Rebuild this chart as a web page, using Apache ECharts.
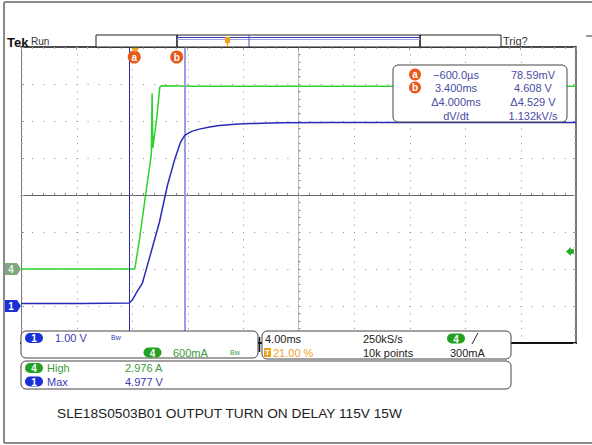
<!DOCTYPE html>
<html>
<head>
<meta charset="utf-8">
<script src="https://cdn.jsdelivr.net/npm/echarts@6/dist/echarts.min.js"></script>
<style>
html, body { margin: 0; padding: 0; background: #fff; }
#main { width: 592px; height: 445px; }
</style>
</head>
<body>
<div id="main"></div>
<script>
// Ch1 - output voltage (1.00 V/div), time in ms
const ch1Time = [-8.4, -4, -0.6, -0.38, -0.1, 0.35, 0.86, 1.58, 2.16, 2.67, 3.1, 3.4, 3.9, 4.45, 5.2, 5.9, 7.0, 8.1, 10.3, 14, 31.6]
const ch1Volts = [0.07, 0.07, 0.08, 0.16, 0.35, 0.62, 1.30, 2.27, 3.27, 3.95, 4.43, 4.61, 4.72, 4.78, 4.84, 4.88, 4.91, 4.93, 4.95, 4.96, 4.96]
// Ch4 - current (600 mA/div)
const ch4Time = [-8.4, -4, -0.2, -0.12, 0.17, 0.53, 0.99, 1.05, 1.1, 1.39, 1.6, 1.72, 4, 31.6]
const ch4Amps = [0, 0, 0, 0.11, 0.53, 1.12, 1.85, 2.85, 1.96, 2.46, 2.95, 2.97, 2.965, 2.965]
// cursors a / b, trigger
const cursorTimes = [-0.6, 3.4]
const cursorNames = ['a', 'b']
const trigLevel = 0.3
const trigTime = 0
// 4 ms/div, 10 div, trigger at 21 %
const timeMin = -8.4
const timeMax = 31.6
// graticule divisions
const xDivs = [-5, -4, -3, -2, -1, 0, 1, 2, 3, 4, 5]
const yDivs = [-4, -3, -2, -1, 0, 1, 2, 3, 4]

const font = 'Liberation Sans'
const blueTxt = '#3b3bb5'
const greenTxt = '#3a9a3a'

function txt(text, x, y, color, size, align) {
  return {
    type: 'text', z: 101,
    style: { text: text, x: x, y: y, fill: color, font: (size || 11) + 'px "' + font + '"', align: align || 'left', verticalAlign: 'middle' }
  }
}

function box(x, y, w, h) {
  return { type: 'rect', z: 100, shape: { x: x, y: y, width: w, height: h, r: 5 }, style: { fill: '#fff', stroke: '#444', lineWidth: 1 } }
}

function pill(label, cx, cy, color) {
  return [
    { type: 'rect', z: 101, shape: { x: cx - 9, y: cy - 5, width: 18, height: 10, r: 5 }, style: { fill: color } },
    { type: 'text', z: 102, style: { text: label, x: cx, y: cy + 0.5, fill: '#fff', font: 'bold 10px "' + font + '"', align: 'center', verticalAlign: 'middle' } }
  ]
}

function line(x1, y1, x2, y2, color, width, dash) {
  return { type: 'line', z: 101, shape: { x1: x1, y1: y1, x2: x2, y2: y2 }, style: { stroke: color, lineWidth: width || 1, lineDash: dash || null } }
}

const chart = echarts.init(document.getElementById('main'), null, { renderer: 'svg' })

const graphics = [
  // outer frame
  line(4, 2, 592, 2, '#8a8a8a', 2),
  line(4, 2, 4, 443, '#8a8a8a', 2),
  line(4, 443, 592, 443, '#8a8a8a', 2),
  // header
  { type: 'text', z: 101, style: { text: 'Tek', x: 7, y: 42, fill: '#111', font: 'bold 13px "' + font + '"', verticalAlign: 'middle' } },
  txt('Run', 31, 41, '#333', 10),
  { type: 'rect', z: 100, shape: { x: 96, y: 35, width: 405, height: 12 }, style: { fill: '#fff', stroke: '#222', lineWidth: 1 } },
  line(177, 35, 177, 47, '#111', 1.5),
  line(420, 35, 420, 47, '#111', 1.5),
  line(177, 37.5, 420, 37.5, '#3a3ab0', 1),
  line(177, 39.5, 420, 39.5, '#a0a0e0', 1),
  line(249, 35, 249, 47, '#5050c0', 1),
  { type: 'rect', z: 101, shape: { x: 225, y: 37, width: 5, height: 6 }, style: { fill: '#f0a020' } },
  line(227.5, 43, 227.5, 47, '#f0a020', 1.5),
  txt('Trig?', 503, 41, '#333', 11),
  line(586, 36, 592, 36, '#333', 1),
  // cursor readout
  box(393, 65, 174, 57),
  { type: 'circle', z: 101, shape: { cx: 415, cy: 74.5, r: 6 }, style: { fill: '#e85a1a' } },
  { type: 'text', z: 102, style: { text: 'a', x: 415, y: 74, fill: '#fff', font: 'bold 10px "' + font + '"', align: 'center', verticalAlign: 'middle' } },
  { type: 'circle', z: 101, shape: { cx: 415, cy: 87.5, r: 6 }, style: { fill: '#e85a1a' } },
  { type: 'text', z: 102, style: { text: 'b', x: 415, y: 87, fill: '#fff', font: 'bold 10px "' + font + '"', align: 'center', verticalAlign: 'middle' } }
]

const readLeft = ['\u2212600.0\u00b5s', '3.400ms', '\u03944.000ms', 'dV/dt']
const readRight = ['78.59mV', '4.608 V', '\u03944.529 V', '1.132kV/s']
const readY = [74.5, 87.5, 102, 115.5]
readY.forEach((y, i) => {
  graphics.push(txt(readLeft[i], 456, y, '#4b4ba5', 11, 'center'))
  graphics.push(txt(readRight[i], 533, y, '#4b4ba5', 11, 'center'))
})

// bottom info boxes
graphics.push(
  box(21, 331, 237, 27),
  box(262, 331, 249, 28),
  box(21, 361, 490, 28),
  line(259.5, 337, 259.5, 352, '#111', 1.5),
  ...pill('1', 34, 338, '#1a2fd8'),
  txt('1.00 V', 55, 338, blueTxt),
  txt('Bw', 111, 337, blueTxt, 7),
  ...pill('4', 152.5, 352.5, '#22a022'),
  txt('600mA', 173, 352.5, greenTxt),
  txt('Bw', 230, 352, greenTxt, 7),
  txt('4.00ms', 265, 338.5, '#222'),
  txt('250kS/s', 363, 338.5, '#222'),
  ...pill('4', 456, 338.5, '#22a022'),
  { type: 'polyline', z: 101, shape: { points: [[472, 344], [478, 333]] }, style: { stroke: '#222', lineWidth: 1 } },
  { type: 'rect', z: 101, shape: { x: 264, y: 348, width: 7, height: 9 }, style: { fill: '#f0a020' } },
  { type: 'text', z: 102, style: { text: 'T', x: 267.5, y: 352.5, fill: '#fff', font: 'bold 8px "' + font + '"', align: 'center', verticalAlign: 'middle' } },
  txt('21.00 %', 273, 352.5, '#f0a030'),
  txt('10k points', 363, 352.5, '#222'),
  txt('300mA', 450, 352.5, '#222'),
  ...pill('4', 34, 368, '#22a022'),
  txt('High', 47, 368, greenTxt),
  txt('2.976 A', 125, 368, greenTxt),
  ...pill('1', 34, 381.5, '#1a2fd8'),
  txt('Max', 47, 381.5, blueTxt),
  txt('4.977 V', 125, 381.5, blueTxt),
  // caption
  txt('SLE18S0503B01 OUTPUT TURN ON DELAY 115V 15W', 57, 413.5, '#222', 13.7)
)

const frameTick = { show: true, inside: true, length: 3, lineStyle: { color: '#999' } }
const frameMinor = { show: true, splitNumber: 5, length: 2, lineStyle: { color: '#aaa' } }

chart.setOption({
  animation: false,
  grid: { left: 21, top: 47, width: 555, height: 296 },
  xAxis: [
    {
      // time axis, bottom frame
      type: 'value', min: timeMin, max: timeMax, position: 'bottom',
      axisLine: { onZero: false, lineStyle: { color: '#111', width: 2 } },
      axisTick: { show: false }, axisLabel: { show: false }, splitLine: { show: false }
    },
    {
      // divisions, top frame
      type: 'value', min: -5, max: 5, interval: 1, position: 'top',
      axisLine: { onZero: false, lineStyle: { color: '#111', width: 1.5 } },
      axisTick: frameTick, minorTick: frameMinor, axisLabel: { show: false }, splitLine: { show: false }
    },
    {
      // horizontal center line ticks
      type: 'value', min: -5, max: 5, interval: 1,
      axisLine: { onZero: true, onZeroAxisIndex: 2, lineStyle: { color: '#666', width: 1 } },
      axisTick: { show: true, length: 2, lineStyle: { color: '#888' } },
      minorTick: { show: true, splitNumber: 5, length: 2, lineStyle: { color: '#888' } },
      axisLabel: { show: false }, splitLine: { show: false }
    }
  ],
  yAxis: [
    {
      // Ch1 volts, left frame
      type: 'value', min: -1, max: 7, interval: 1, position: 'left',
      axisLine: { onZero: false, lineStyle: { color: '#777', width: 1 } },
      axisTick: frameTick, minorTick: frameMinor, axisLabel: { show: false }, splitLine: { show: false }
    },
    {
      // Ch4 amps, right frame
      type: 'value', min: -1.2, max: 3.6, interval: 0.6, position: 'right',
      axisLine: { onZero: false, lineStyle: { color: '#777', width: 2 } },
      axisTick: frameTick, minorTick: frameMinor, axisLabel: { show: false }, splitLine: { show: false }
    },
    {
      // divisions, vertical center line ticks
      type: 'value', min: -4, max: 4, interval: 1,
      axisLine: { onZero: true, onZeroAxisIndex: 1, lineStyle: { color: '#aaa', width: 1, type: 'dotted' } },
      axisTick: { show: true, length: 2, lineStyle: { color: '#999' } },
      minorTick: { show: true, splitNumber: 5, length: 2, lineStyle: { color: '#999' } },
      axisLabel: { show: false }, splitLine: { show: false }
    }
  ],
  series: [
    {
      name: 'Ch1',
      type: 'line',
      xAxisIndex: 0,
      yAxisIndex: 0,
      data: ch1Time.map((t, i) => [t, ch1Volts[i]]),
      symbol: 'none',
      lineStyle: { color: '#2a2ab8', width: 1.5 },
      z: 5,
      markLine: {
        silent: true,
        symbol: ['none', 'none'],
        label: { show: false },
        data: [
          { xAxis: cursorTimes[0], lineStyle: { color: '#2a2a9a', width: 1, type: 'solid' } },
          { xAxis: cursorTimes[1], lineStyle: { color: '#9b9be6', width: 2, type: 'solid' } }
        ]
      },
      markPoint: {
        silent: true,
        data: [
          {
            coord: [timeMin, 0], symbol: 'path://M0,0 L12,0 L16,6 L12,12 L0,12 Z', symbolSize: [16, 12], symbolOffset: [-8, 0],
            itemStyle: { color: '#1a2fd8' }, label: { show: true, formatter: '1', color: '#fff', fontSize: 10, fontWeight: 'bold', offset: [-2, 0] }
          },
          {
            coord: [cursorTimes[0], 7], symbol: 'circle', symbolSize: 13, symbolOffset: [5, 10],
            itemStyle: { color: '#e85a1a' }, label: { show: true, formatter: cursorNames[0], color: '#fff', fontSize: 10, fontWeight: 'bold' }
          },
          {
            coord: [cursorTimes[1], 7], symbol: 'circle', symbolSize: 13, symbolOffset: [-8, 10],
            itemStyle: { color: '#e85a1a' }, label: { show: true, formatter: cursorNames[1], color: '#fff', fontSize: 10, fontWeight: 'bold' }
          },
          {
            coord: [trigTime, 7], symbol: 'path://M0,0 L8,0 L4,6 Z', symbolSize: [8, 5], symbolOffset: [-2, 3],
            itemStyle: { color: '#f0a020' }, label: { show: false }
          }
        ]
      }
    },
    {
      name: 'Ch4',
      type: 'line',
      xAxisIndex: 0,
      yAxisIndex: 1,
      data: ch4Time.map((t, i) => [t, ch4Amps[i]]),
      symbol: 'none',
      lineStyle: { color: '#2ed12e', width: 1.5 },
      z: 4,
      markPoint: {
        silent: true,
        data: [
          {
            coord: [timeMin, 0], symbol: 'path://M0,0 L12,0 L16,6 L12,12 L0,12 Z', symbolSize: [16, 12], symbolOffset: [-8, 0],
            itemStyle: { color: '#7fa87f' }, label: { show: true, formatter: '4', color: '#e8f0e8', fontSize: 10, fontWeight: 'bold', offset: [-2, 0] }
          },
          {
            coord: [timeMax, trigLevel], symbol: 'path://M0,6 L6,0 L6,3 L10,3 L10,9 L6,9 L6,12 Z', symbolSize: [8, 9], symbolOffset: [-6, 1],
            itemStyle: { color: '#22aa22' }, label: { show: false }
          }
        ]
      }
    }
  ]
})

// dotted graticule, placed through the division axes
const gTop = chart.convertToPixel({ yAxisIndex: 2 }, 4)
const gBottom = chart.convertToPixel({ yAxisIndex: 2 }, -4)
const gLeft = chart.convertToPixel({ xAxisIndex: 1 }, -5)
const gRight = chart.convertToPixel({ xAxisIndex: 1 }, 5)
xDivs.forEach(d => {
  if (d === -5 || d === 5) return
  const x = Math.round(chart.convertToPixel({ xAxisIndex: 1 }, d)) + 0.5
  const g = line(x, gTop, x, gBottom, '#8c8c8c', 1, [1, 6.4])
  g.z = 1
  graphics.push(g)
})
yDivs.forEach(d => {
  if (d === -4 || d === 4 || d === 0) return
  const y = Math.round(chart.convertToPixel({ yAxisIndex: 2 }, d)) + 0.5
  const g = line(gLeft, y, gRight, y, '#8c8c8c', 1, [1, 10.1])
  g.z = 1
  graphics.push(g)
})

chart.setOption({ graphic: { elements: graphics } })
</script>
</body>
</html>
